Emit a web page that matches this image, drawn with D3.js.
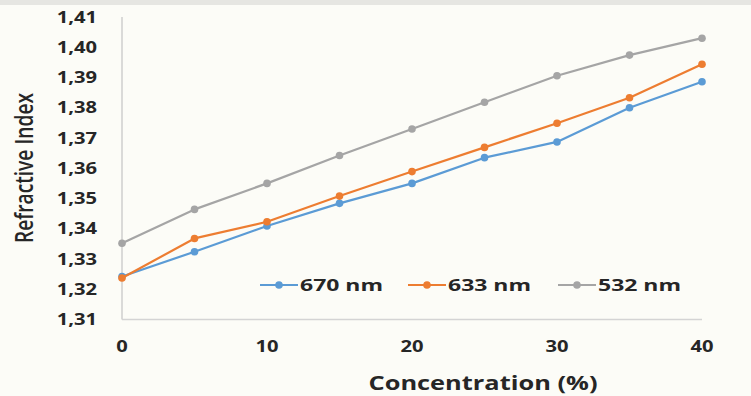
<!DOCTYPE html>
<html><head><meta charset="utf-8">
<script src="https://cdn.jsdelivr.net/npm/d3@7"></script>
<style>
html,body{margin:0;padding:0;background:#fcfcf7;}
svg{display:block;}
text{font-family:"Open Sans",sans-serif;}
</style></head>
<body>
<svg id="c" width="751" height="396"></svg>
<script>
const concentrations = [0, 5, 10, 15, 20, 25, 30, 35, 40];
const seriesNames = ["670 nm", "633 nm", "532 nm"];
const seriesColors = ["#5b9bd5", "#ed7d31", "#a5a5a5"];
const values670 = [1.3242, 1.3324, 1.3409, 1.3484, 1.3550, 1.3635, 1.3687, 1.3800, 1.3886];
const values633 = [1.3237, 1.3368, 1.3423, 1.3508, 1.3589, 1.3669, 1.3749, 1.3833, 1.3944];
const values532 = [1.3352, 1.3464, 1.3550, 1.3642, 1.3730, 1.3818, 1.3906, 1.3974, 1.4030];
const xTicks = [0, 10, 20, 30, 40];
const yTicks = [1.31, 1.32, 1.33, 1.34, 1.35, 1.36, 1.37, 1.38, 1.39, 1.40, 1.41];
const xTitle = "Concentration (%)";
const yTitle = "Refractive Index";

const allSeries = [values670, values633, values532];
const svg = d3.select("#c");

// top strip
svg.append("rect").attr("x",0).attr("y",0).attr("width",751).attr("height",5).attr("fill","#e6e6e2");

const x = d3.scaleLinear().domain([0, 40]).range([122, 702]);
const y = d3.scaleLinear().domain([1.31, 1.41]).range([319.5, 17]);

function stretch(sel, f){
  sel.each(function(){
    const w = this.getComputedTextLength();
    d3.select(this).attr("textLength", w*f).attr("lengthAdjust","spacingAndGlyphs");
  });
}

// axes lines
svg.append("line").attr("x1",x(0)).attr("x2",x(0)).attr("y1",y(1.41)).attr("y2",y(1.31))
  .attr("stroke","#c8c8c8").attr("stroke-width",1.3);
svg.append("line").attr("x1",x(0)).attr("x2",x(40)).attr("y1",y(1.31)).attr("y2",y(1.31))
  .attr("stroke","#d4d4d4").attr("stroke-width",1.3);

// y tick labels
const yl = svg.append("g").selectAll("text").data(yTicks).join("text")
  .attr("x", 97).attr("y", d => y(d)).attr("dy","0.36em")
  .attr("text-anchor","end").attr("font-size",15.5).attr("font-weight","bold").attr("fill","#262626")
  .text(d => d3.format(".2f")(d).replace(".", ","));
stretch(yl, 1.3);

// x tick labels
const xl = svg.append("g").selectAll("text").data(xTicks).join("text")
  .attr("x", d => x(d)).attr("y", 346).attr("dy","0.36em")
  .attr("text-anchor","middle").attr("font-size",15.5).attr("font-weight","bold").attr("fill","#262626")
  .text(d => d);
stretch(xl, 1.3);

// titles
svg.append("text").attr("x",483).attr("y",383).attr("dy","0.36em").attr("text-anchor","middle")
  .attr("font-size",19).attr("font-weight","bold").attr("fill","#262626")
  .attr("textLength",229).attr("lengthAdjust","spacingAndGlyphs").text(xTitle);
svg.append("text").attr("transform","translate(33,168) rotate(-90)")
  .attr("text-anchor","middle").attr("font-size",26).attr("font-weight",600).attr("fill","#262626")
  .attr("textLength",150).attr("lengthAdjust","spacingAndGlyphs").text(yTitle);

// lines
const line = d3.line().x((d,i) => x(concentrations[i])).y(d => y(d));
allSeries.forEach((vals, si) => {
  svg.append("path").datum(vals).attr("d", line).attr("fill","none")
    .attr("stroke", seriesColors[si]).attr("stroke-width",2.2).attr("stroke-linejoin","round");
  svg.append("g").selectAll("circle").data(vals).join("circle")
    .attr("cx",(d,i)=>x(concentrations[i])).attr("cy",d=>y(d)).attr("r",3.8)
    .attr("fill", seriesColors[si]);
});

// legend
const legX = [260, 408, 558];
const legY = 285;
seriesNames.forEach((name, i) => {
  const g = svg.append("g");
  g.append("line").attr("x1",legX[i]).attr("x2",legX[i]+38).attr("y1",legY).attr("y2",legY)
    .attr("stroke",seriesColors[i]).attr("stroke-width",2.2);
  g.append("circle").attr("cx",legX[i]+19).attr("cy",legY).attr("r",3.8).attr("fill",seriesColors[i]);
  g.append("text").attr("x",legX[i]+40).attr("y",legY).attr("dy","0.36em")
    .attr("font-size",16).attr("font-weight","bold").attr("fill","#262626")
    .attr("textLength",83).attr("lengthAdjust","spacingAndGlyphs").text(name);
});
</script>
</body></html>
